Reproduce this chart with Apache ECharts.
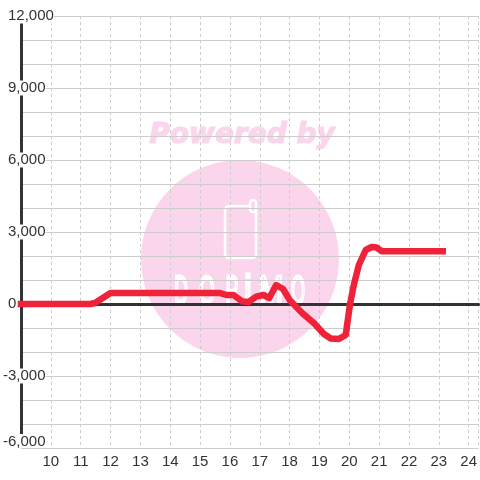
<!DOCTYPE html>
<html>
<head>
<meta charset="utf-8">
<style>
  html, body { margin: 0; padding: 0; background: #fff; }
  #chart { width: 480px; height: 480px; }
</style>
<script src="https://cdn.jsdelivr.net/npm/echarts@6/dist/echarts.min.js"></script>
</head>
<body>
<div id="chart"></div>
<script>
// Hours of the day and the value at each of them
const hours = [9, 11.32, 11.48, 12, 15.65, 15.88, 16.12, 16.42, 16.62, 16.88, 17.12, 17.32, 17.55, 17.78,
  18, 18.42, 18.82, 19.15, 19.38, 19.65, 19.88, 20.02, 20.15, 20.32, 20.55, 20.75, 20.92, 21.08, 23.13]
const values = [0, 0, 40, 460, 460, 375, 375, 100, 80, 310, 375, 250, 790, 625,
  170, -375, -800, -1250, -1440, -1460, -1290, -40, 790, 1625, 2250, 2375, 2350, 2200, 2200]

const upperTicks = [0, 3000, 6000, 9000, 12000]
const lowerTicks = [-3000]
const bottomTicks = [-6000]

const TEXT = '#333'
const GRID = '#ccc'
const PINK = '#fbd5ec'
const FONT = 'Liberation Sans'

const yRange = { min: -6000, max: 12000, interval: 1000 }
const xRange = { min: 9, max: 24.33, interval: 1 }

const tickLabel = {
  color: TEXT,
  fontFamily: FONT,
  fontSize: 15,
  lineHeight: 12,
  padding: [3, 0, 0, 0],
  align: 'left',
  backgroundColor: '#fff',
  formatter: (v) => v.toLocaleString('en-US')
}

// Extra y axis that only carries labels
const labelAxis = (axisLabel) => ({
  type: 'value',
  ...yRange,
  position: 'left',
  axisLine: { show: false },
  axisTick: { show: false },
  axisLabel: { ...tickLabel, ...axisLabel },
  splitLine: { show: false }
})

// Blocky white logo letters: [letter, centre x, horizontal squeeze]
const logoLetters = [['D', 181, 0.46], ['O', 207, 0.48], ['P', 232, 0.46], ['i', 248, 0.8], ['M', 271, 0.72], ['O', 298, 0.44]]

const chart = echarts.init(document.getElementById('chart'))

chart.setOption({
  animation: false,
  backgroundColor: '#fff',
  grid: { left: 20, right: 0, top: 16, bottom: 32 },
  xAxis: [
    {
      type: 'value',
      ...xRange,
      axisLine: { show: false, onZero: false },
      axisTick: { show: false },
      axisLabel: { color: TEXT, fontFamily: FONT, fontSize: 15, margin: 6, showMinLabel: false, showMaxLabel: false },
      splitLine: { lineStyle: { color: GRID, type: [3, 3], width: 1 } }
    },
    {
      // zero line only
      type: 'value',
      ...xRange,
      position: 'bottom',
      axisLine: { show: true, onZero: true, lineStyle: { color: TEXT, width: 3 } },
      axisTick: { show: false },
      axisLabel: { show: false },
      splitLine: { show: false }
    }
  ],
  yAxis: [
    {
      type: 'value',
      ...yRange,
      axisLine: { show: true, onZero: false, lineStyle: { color: TEXT, width: 3, cap: 'butt' } },
      axisTick: { show: false },
      axisLabel: { ...tickLabel, margin: 13, customValues: upperTicks },
      splitLine: { lineStyle: { color: GRID, width: 1 } }
    },
    // negative labels hang further left, the lowest one sits above the bottom edge
    labelAxis({ margin: 18, customValues: lowerTicks }),
    labelAxis({ margin: 18, customValues: bottomTicks, padding: [2, 3, 0, 0], verticalAlignMinLabel: 'bottom' })
  ],
  graphic: [
    // Watermark behind the grid
    { type: 'circle', z: -10, silent: true, shape: { cx: 240, cy: 259, r: 99 }, style: { fill: PINK } },
    {
      type: 'text', z: -10, silent: true, x: 242, y: 136,
      style: {
        text: 'Powered by',
        fill: PINK,
        stroke: PINK,
        lineWidth: 1.2,
        font: 'italic bold 28px "DejaVu Sans"',
        align: 'center',
        verticalAlign: 'middle'
      }
    },
    {
      type: 'rect', z: -9, silent: true,
      shape: { x: 225, y: 206, width: 31, height: 52, r: 4 },
      style: { fill: 'none', stroke: '#fff', lineWidth: 2.5 }
    },
    {
      type: 'rect', z: -9, silent: true,
      shape: { x: 250, y: 200, width: 6, height: 12, r: 3 },
      style: { fill: PINK, stroke: '#fff', lineWidth: 2.5 }
    },
    ...logoLetters.map(([text, x, scaleX]) => ({
      type: 'text', z: -9, silent: true, x, y: 293, scaleX,
      style: {
        text,
        fill: 'none',
        stroke: '#fff',
        lineWidth: 3,
        font: '41px "Liberation Sans"',
        align: 'center',
        verticalAlign: 'middle'
      }
    }))
  ],
  series: [
    {
      type: 'line',
      data: hours.map((h, i) => [h, values[i]]),
      showSymbol: false,
      clip: false,
      z: 5,
      lineStyle: { color: '#ee2238', width: 6.5, cap: 'square', join: 'round' }
    }
  ]
})
</script>
</body>
</html>
